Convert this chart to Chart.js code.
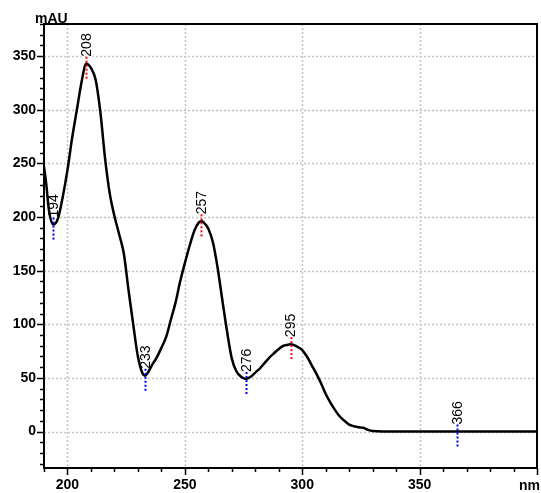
<!DOCTYPE html>
<html lang="en">
<head>
<meta charset="UTF-8" />
<title>UV spectrum</title>
<script src="https://cdn.jsdelivr.net/npm/chart.js"></script>
<style>
  html, body { margin: 0; padding: 0; background: #ffffff; }
  #wrap { width: 541px; height: 493px; }
</style>
</head>
<body>
<div id="wrap"><canvas id="spectrum"></canvas></div>
<script>
// spectrum trace, wavelength in nm and absorbance in mAU
const wavelengths = [
  190, 191, 192, 194, 196, 198, 200, 202, 204, 206, 208, 210, 212, 214, 216, 218,
  220, 222, 224, 226, 228, 230, 232, 233, 234, 236, 238, 240, 242, 244, 246, 248,
  250, 252, 254, 256, 257, 258, 260, 262, 264, 266, 268, 270, 272, 274, 276, 278,
  280, 282, 284, 286, 288, 290, 292, 294, 295, 296, 298, 300, 302, 304, 306, 308,
  310, 312, 314, 316, 318, 320, 322, 324, 326, 328, 330, 340, 350, 360, 370, 380,
  390, 400
];
const absorbance = [
  247, 230, 208, 193, 199, 219, 244, 274, 300, 326, 343, 339, 328, 298, 255, 222,
  201, 184, 166, 132, 100, 70, 54, 52, 54, 62, 69, 78, 88, 104, 120, 140,
  157, 173, 187, 195, 196, 195, 189, 176, 152, 122, 93, 68, 56, 51, 49, 51,
  55, 59, 64, 69, 73, 77, 80, 81, 81.5, 81, 79, 76, 70, 62, 54, 45,
  35, 27, 20, 14, 10, 6.5, 5, 4, 3.5, 1.5, 0.5, 0, 0, 0, 0, 0,
  0, 0
];

// labelled peaks (red) and valleys (blue), in nm
const maxima = [208, 257, 295];
const minima = [194, 233, 276, 366];

const FONT = '"Liberation Sans", Arial, sans-serif';

function valueAt(nm) {
  for (let i = 0; i < wavelengths.length - 1; i++) {
    const a = wavelengths[i], b = wavelengths[i + 1];
    if (nm >= a && nm <= b) {
      const t = (nm - a) / (b - a);
      return absorbance[i] + t * (absorbance[i + 1] - absorbance[i]);
    }
  }
  return 0;
}

const marks = maxima.map(nm => ({ nm, color: '#ff0000' }))
  .concat(minima.map(nm => ({ nm, color: '#0000ff' })));

const spectrumDecor = {
  id: 'spectrumDecor',
  beforeDatasetsDraw(chart) {
    const { ctx, chartArea: area, scales: { x, y } } = chart;
    ctx.save();

    // dotted grid on the labelled ticks
    ctx.strokeStyle = '#c4c4c4';
    ctx.lineWidth = 1.5;
    ctx.setLineDash([2, 2]);
    ctx.beginPath();
    x.ticks.forEach(t => {
      const px = Math.round(x.getPixelForValue(t.value)) + 0.5;
      ctx.moveTo(px, area.top);
      ctx.lineTo(px, area.bottom);
    });
    y.ticks.forEach(t => {
      const py = Math.round(y.getPixelForValue(t.value)) + 0.5;
      ctx.moveTo(area.left, py);
      ctx.lineTo(area.right, py);
    });
    ctx.stroke();
    ctx.setLineDash([]);

    // rotated wavelength labels
    ctx.font = '14px ' + FONT;
    ctx.textAlign = 'left';
    ctx.textBaseline = 'middle';
    marks.forEach(m => {
      const px = x.getPixelForValue(m.nm);
      const py = y.getPixelForValue(valueAt(m.nm));
      ctx.save();
      ctx.translate(px + 1, py - 7);
      ctx.rotate(-Math.PI / 2);
      ctx.lineWidth = 3;
      ctx.strokeStyle = '#ffffff';
      ctx.strokeText(String(m.nm), 0, 0);
      ctx.fillStyle = '#000000';
      ctx.fillText(String(m.nm), 0, 0);
      ctx.restore();
    });
    ctx.restore();
  },
  afterDatasetsDraw(chart) {
    const { ctx, chartArea: area, scales: { x, y } } = chart;
    ctx.save();

    // dotted markers under each labelled wavelength
    ctx.lineWidth = 2;
    ctx.setLineDash([2, 2]);
    marks.forEach(m => {
      const px = Math.round(x.getPixelForValue(m.nm)) + 0.5;
      const py = y.getPixelForValue(valueAt(m.nm));
      ctx.strokeStyle = m.color;
      ctx.beginPath();
      ctx.moveTo(px, py - 7);
      ctx.lineTo(px, py + 15);
      ctx.stroke();
    });
    ctx.setLineDash([]);

    // frame
    ctx.strokeStyle = '#000000';
    ctx.lineWidth = 2;
    ctx.strokeRect(area.left, area.top, area.right - area.left, area.bottom - area.top);

    // tick marks, every 10 units with longer ones on the labelled values
    ctx.lineWidth = 1.5;
    ctx.beginPath();
    for (let v = 190; v <= 400; v += 10) {
      const px = Math.round(x.getPixelForValue(v)) + 0.5;
      const len = v % 50 === 0 ? 7 : 4;
      ctx.moveTo(px, area.bottom);
      ctx.lineTo(px, area.bottom + len);
    }
    for (let v = -30; v <= 380; v += 10) {
      const py = Math.round(y.getPixelForValue(v)) + 0.5;
      const len = v % 50 === 0 ? 7 : 4;
      ctx.moveTo(area.left, py);
      ctx.lineTo(area.left - len, py);
    }
    ctx.stroke();

    // axis units
    ctx.fillStyle = '#000000';
    ctx.font = 'bold 14px ' + FONT;
    ctx.textBaseline = 'alphabetic';
    ctx.textAlign = 'left';
    ctx.fillText('mAU', 35, 23);
    ctx.textAlign = 'right';
    ctx.fillText('nm', 540, 490);
    ctx.restore();
  }
};

const ctx = document.getElementById('spectrum').getContext('2d');
new Chart(ctx, {
  type: 'line',
  data: {
    labels: wavelengths,
    datasets: [{
      data: wavelengths.map((nm, i) => ({ x: nm, y: absorbance[i] })),
      borderColor: '#000000',
      borderWidth: 2.5,
      pointRadius: 0,
      cubicInterpolationMode: 'monotone',
      fill: false
    }]
  },
  options: {
    responsive: true,
    maintainAspectRatio: false,
    animation: false,
    layout: { padding: { top: 24, right: 4, bottom: 0, left: 0 } },
    plugins: {
      legend: { display: false },
      tooltip: { enabled: false }
    },
    scales: {
      x: {
        type: 'linear',
        min: 190,
        max: 400,
        afterFit(scale) { scale.height = 25; },
        // no label at the right edge, "nm" sits there instead
        afterBuildTicks(scale) { scale.ticks = scale.ticks.filter(t => t.value < 400); },
        grid: { drawOnChartArea: false, drawTicks: false },
        border: { display: false },
        ticks: {
          stepSize: 50,
          includeBounds: false,
          maxRotation: 0,
          padding: 9,
          color: '#000000',
          font: { family: FONT, size: 14, weight: 'bold' }
        }
      },
      y: {
        min: -34,
        max: 380,
        afterFit(scale) { scale.width = 44; },
        grid: { drawOnChartArea: false, drawTicks: false },
        border: { display: false },
        ticks: {
          stepSize: 50,
          includeBounds: false,
          padding: 8,
          color: '#000000',
          font: { family: FONT, size: 14, weight: 'bold' }
        }
      }
    }
  },
  plugins: [spectrumDecor]
});
</script>
</body>
</html>
